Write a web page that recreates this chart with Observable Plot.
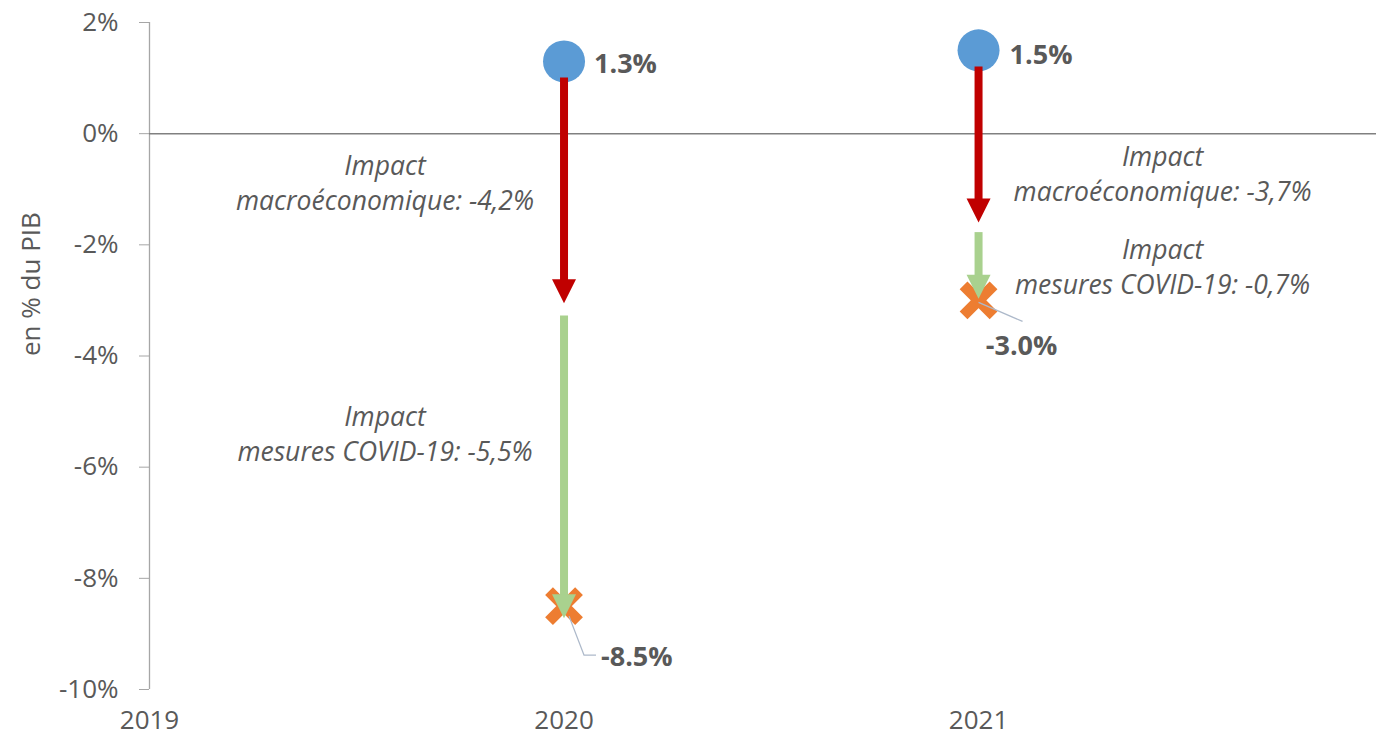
<!DOCTYPE html>
<html>
<head>
<meta charset="utf-8">
<script src="https://cdn.jsdelivr.net/npm/d3@7"></script>
<script src="https://cdn.jsdelivr.net/npm/@observablehq/plot@0.6"></script>
<style>
  html, body { margin: 0; padding: 0; background: #fff; }
  #chart { width: 1376px; height: 744px; }
</style>
</head>
<body>
<div id="chart"></div>
<script>
// ---- data ----
const years = [2020, 2021];
const startValues = [1.3, 1.5];          // blue dots (solde initial)
const endValues = [-8.5, -3.0];          // orange crosses (solde final)
const macroImpact = [-4.2, -3.7];
const covidImpact = [-5.5, -0.7];
const macroLabels = ["Impact\nmacroéconomique: -4,2%", "Impact\nmacroéconomique: -3,7%"];
const covidLabels = ["Impact\nmesures COVID-19: -5,5%", "Impact\nmesures COVID-19: -0,7%"];
// arrow extents
const redTop = [1.0, 1.2];
const redTip = [-3.05, -1.6];
const greenTop = [-3.28, -1.78];
const greenTip = [-8.72, -2.97];
const xTickValues = [2019, 2020, 2021];
const yTickValues = [-10, -8, -6, -4, -2, 0, 2];

// ---- tables ----
const rows = years.map((year, i) => ({
  year, start: startValues[i], end: endValues[i],
  macro: macroImpact[i], covid: covidImpact[i],
  macroLabel: macroLabels[i], covidLabel: covidLabels[i],
  redTop: redTop[i], redTip: redTip[i], greenTop: greenTop[i], greenTip: greenTip[i],
  macroMid: startValues[i] + macroImpact[i] / 2,
  covidMid: startValues[i] + macroImpact[i] + covidImpact[i] / 2
}));
const r2020 = rows.filter(d => d.year === 2020);
const r2021 = rows.filter(d => d.year === 2021);

// ---- styles ----
const RED = "#C00000", GREEN = "#A9D18E", BLUE = "#5B9BD5", ORANGE = "#ED7D31";
const TXT = "#595959", LEADER = "#ADB9CA";
const FONT = "'Open Sans', 'DejaVu Sans', sans-serif";

const headSymbol = { draw(ctx) { ctx.moveTo(0, 0); ctx.lineTo(-12, -24); ctx.lineTo(12, -24); ctx.closePath(); } };
const crossSymbol = { draw(ctx) { ctx.moveTo(-15, -15); ctx.lineTo(15, 15); ctx.moveTo(-15, 15); ctx.lineTo(15, -15); } };
const leader2020 = { draw(ctx) { ctx.moveTo(5, 10); ctx.lineTo(20, 49); ctx.lineTo(32, 49); } };
const leader2021 = { draw(ctx) { ctx.moveTo(0, 2); ctx.lineTo(44, 21); } };
const pct1 = v => v.toFixed(1) + "%";

const ITALIC = { fontSize: 26.5, fontStyle: "italic", lineHeight: 1.32, fill: TXT };

const chart = Plot.plot({
  width: 1376,
  height: 744,
  marginLeft: 149,
  marginRight: 0,
  marginTop: 22,
  marginBottom: 55,
  style: { fontFamily: FONT, color: TXT, background: "#fff", overflow: "visible" },
  x: { type: "linear", domain: [2019, 2021.96] },
  y: { domain: [-10, 2] },
  marks: [
    Plot.axisY(yTickValues, { tickSize: 10, tickPadding: 21, tickFormat: d => d + "%", fontSize: 26, stroke: "#A6A6A6", fill: TXT, label: null }),
    Plot.axisX(xTickValues, { tickSize: 0, tickPadding: 21, tickFormat: d => String(d), fontSize: 26, fill: TXT, label: null }),
    Plot.ruleX([2019], { stroke: "#A6A6A6", strokeWidth: 1.3 }),
    Plot.ruleY([0], { stroke: "#808080", strokeWidth: 1.5 }),
    Plot.text(["en % du PIB"], { frameAnchor: "left", dx: -118, rotate: -90, fontSize: 26, fill: TXT }),

    // start dots & end crosses
    Plot.dot(rows, { x: "year", y: "start", r: 21, fill: BLUE, stroke: "none" }),
    Plot.dot(rows, { x: "year", y: "end", symbol: crossSymbol, r: 10, stroke: ORANGE, strokeWidth: 11, fill: "none" }),

    // leader lines
    Plot.dot(r2020, { x: "year", y: "end", symbol: leader2020, r: 10, stroke: LEADER, strokeWidth: 1.3, fill: "none" }),
    Plot.dot(r2021, { x: "year", y: "end", symbol: leader2021, r: 10, stroke: LEADER, strokeWidth: 1.3, fill: "none" }),

    // red arrows (macro impact)
    Plot.ruleX(rows, { x: "year", y1: "redTop", y2: "redTip", stroke: RED, strokeWidth: 8, insetBottom: 20 }),
    Plot.dot(rows, { x: "year", y: "redTip", symbol: headSymbol, r: 10, fill: RED, stroke: "none" }),
    // green arrows (COVID measures impact)
    Plot.ruleX(rows, { x: "year", y1: "greenTop", y2: "greenTip", stroke: GREEN, strokeWidth: 8, insetBottom: 20 }),
    Plot.dot(rows, { x: "year", y: "greenTip", symbol: headSymbol, r: 10, fill: GREEN, stroke: "none" }),

    // value labels
    Plot.text(r2020, { x: "year", y: "start", text: d => pct1(d.start), dx: 30, dy: 3, textAnchor: "start", fontSize: 27, fontWeight: "bold", fill: TXT }),
    Plot.text(r2021, { x: "year", y: "start", text: d => pct1(d.start), dx: 31, dy: 5, textAnchor: "start", fontSize: 27, fontWeight: "bold", fill: TXT }),
    Plot.text(r2020, { x: "year", y: "end", text: d => pct1(d.end), dx: 37, dy: 51, textAnchor: "start", fontSize: 27, fontWeight: "bold", fill: TXT }),
    Plot.text(r2021, { x: "year", y: "end", text: d => pct1(d.end), dx: 43, dy: 46, textAnchor: "middle", fontSize: 27, fontWeight: "bold", fill: TXT }),

    // impact annotations
    Plot.text(r2020, { x: "year", y: "macroMid", text: "macroLabel", dx: -179, dy: 3, ...ITALIC }),
    Plot.text(r2020, { x: "year", y: "covidMid", text: "covidLabel", dx: -179, dy: -15, ...ITALIC }),
    Plot.text(r2021, { x: "year", y: "macroMid", text: "macroLabel", dx: 184, dy: 19, ...ITALIC }),
    Plot.text(r2021, { x: "year", y: "covidMid", text: "covidLabel", dx: 184, dy: -10, ...ITALIC })
  ]
});
document.getElementById("chart").appendChild(chart);
</script>
</body>
</html>
